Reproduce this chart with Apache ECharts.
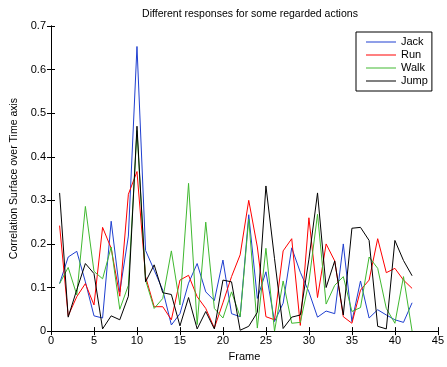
<!DOCTYPE html>
<html>
<head>
<meta charset="utf-8">
<script src="https://cdn.jsdelivr.net/npm/echarts@6/dist/echarts.min.js"></script>
<style>
  html, body { margin: 0; padding: 0; background: #fff; }
  #chart { width: 447px; height: 367px; }
</style>
</head>
<body>
<div id="chart"></div>
<script>
  // frame numbers along x
  var frames = [1,2,3,4,5,6,7,8,9,10,11,12,13,14,15,16,17,18,19,20,21,22,23,24,25,26,27,28,29,30,31,32,33,34,35,36,37,38,39,40,41,42];

  var jack = [0.109,0.170,0.183,0.113,0.035,0.030,0.252,0.090,0.218,0.653,0.185,0.140,0.094,0.014,0.040,0.110,0.155,0.090,0.070,0.163,0.040,0.033,0.267,0.075,0.136,0.022,0.064,0.191,0.135,0.090,0.032,0.046,0.040,0.200,0.022,0.115,0.030,0.049,0.037,0.026,0.020,0.065];
  var run = [0.242,0.035,0.079,0.109,0.060,0.238,0.190,0.080,0.314,0.366,0.125,0.056,0.056,0.026,0.117,0.128,0.079,0.052,0.007,0.065,0.125,0.175,0.300,0.193,0.033,0.026,0.184,0.212,0.013,0.260,0.077,0.200,0.161,0.033,0.018,0.094,0.117,0.212,0.134,0.144,0.117,0.098];
  var walk = [0.109,0.146,0.083,0.286,0.137,0.120,0.193,0.050,0.105,0.460,0.117,0.052,0.075,0.184,0.060,0.339,0.015,0.250,0.052,0.030,0.090,0.033,0.257,0.007,0.190,0.000,0.115,0.018,0.020,0.113,0.268,0.062,0.105,0.125,0.045,0.054,0.170,0.144,0.052,0.018,0.125,0.000];
  var jump = [0.317,0.032,0.095,0.155,0.132,0.005,0.035,0.026,0.080,0.470,0.113,0.152,0.088,0.084,0.012,0.077,0.005,0.045,0.005,0.117,0.113,0.002,0.011,0.043,0.333,0.166,0.006,0.032,0.037,0.165,0.317,0.100,0.161,0.037,0.236,0.238,0.208,0.011,0.005,0.208,0.162,0.127];

  var names = ['Jack', 'Run', 'Walk', 'Jump'];
  var colors = ['#1f3fd0', '#ff0000', '#40b830', '#000000'];

  function pairs(vals) {
    var out = [];
    for (var i = 0; i < frames.length; i++) out.push([frames[i], vals[i]]);
    return out;
  }

  var font = 'Liberation Sans, Arial, sans-serif';
  var axisCommon = {
    axisLine: { lineStyle: { color: '#000', width: 1 } },
    axisTick: { inside: true, length: 4, lineStyle: { color: '#000' } },
    splitLine: { show: false },
    axisLabel: { color: '#000', fontSize: 11, fontFamily: font }
  };

  var chart = echarts.init(document.getElementById('chart'));
  var option = {
    backgroundColor: '#fff',
    animation: false,
    title: {
      text: 'Different responses for some regarded actions',
      left: 245, top: 4, textAlign: 'center',
      textStyle: { fontSize: 10.5, fontWeight: 'normal', color: '#000', fontFamily: font }
    },
    legend: {
      orient: 'vertical',
      left: 356, top: 32,
      width: 76,
      data: names,
      icon: 'rect',
      itemWidth: 30, itemHeight: 1,
      itemGap: 1,
      padding: [4, 4, 4, 10],
      borderColor: '#000', borderWidth: 1,
      backgroundColor: '#fff',
      textStyle: { fontSize: 11, color: '#000', fontFamily: font, lineHeight: 12 }
    },
    grid: { left: 51, top: 26, width: 389, height: 307 },
    xAxis: [
      Object.assign({}, axisCommon, {
        type: 'value', min: 0, max: 45, interval: 5,
        name: 'Frame', nameLocation: 'middle', nameGap: 16,
        nameTextStyle: { fontSize: 11, color: '#000', fontFamily: font },
        axisLabel: { color: '#000', fontSize: 11, fontFamily: font, margin: 4 }
      }),
      Object.assign({}, axisCommon, {
        type: 'value', min: 0, max: 45, interval: 5, position: 'top',
        axisLabel: { show: false }
      })
    ],
    yAxis: [
      Object.assign({}, axisCommon, {
        type: 'value', min: 0, max: 0.7, interval: 0.1,
        name: 'Correlation Surface over Time axis', nameLocation: 'middle', nameGap: 31,
        nameTextStyle: { fontSize: 10.5, color: '#000', fontFamily: font },
        axisLabel: { color: '#000', fontSize: 11, fontFamily: font, margin: 5 }
      }),
      Object.assign({}, axisCommon, {
        type: 'value', min: 0, max: 0.7, interval: 0.1, position: 'right',
        axisLabel: { show: false }
      })
    ],
    series: [jack, run, walk, jump].map(function (vals, i) {
      return {
        name: names[i],
        type: 'line',
        data: pairs(vals),
        showSymbol: false,
        symbol: 'none',
        color: colors[i],
        lineStyle: { width: 1, color: colors[i] },
        z: 2 + i
      };
    })
  };
  chart.setOption(option);
</script>
</body>
</html>
